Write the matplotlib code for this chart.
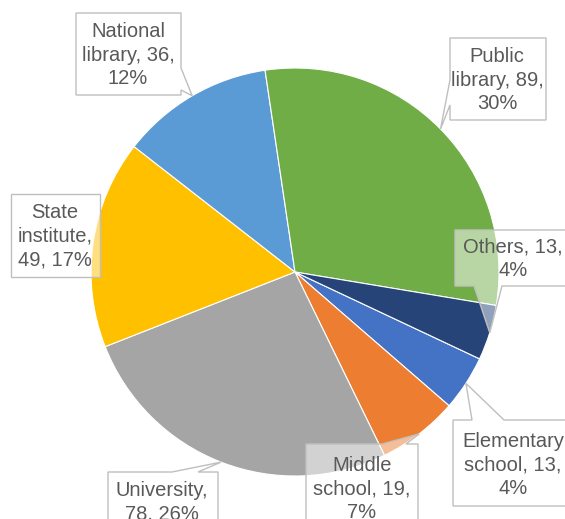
import numpy as np
import matplotlib
matplotlib.use("Agg")
import matplotlib.pyplot as plt
from matplotlib.patches import Polygon

plt.rcParams['font.family'] = ['Liberation Sans', 'DejaVu Sans']

categories = ["Elementary school", "Middle school", "University", "State institute",
              "National library", "Public library", "Others"]
values = [13, 19, 78, 49, 36, 89, 13]
label_texts = ["Elementary\nschool, 13,\n4%", "Middle\nschool, 19,\n7%", "University,\n78, 26%",
               "State\ninstitute,\n49, 17%", "National\nlibrary, 36,\n12%",
               "Public\nlibrary, 89,\n30%", "Others, 13,\n4%"]
colors = ["#4472C4", "#ED7D31", "#A5A5A5", "#FFC000", "#5B9BD5", "#70AD47", "#264478"]

W, H = 565, 519
fig = plt.figure(figsize=(W / 100, H / 100), dpi=100)
fig.patch.set_facecolor("white")

# pie geometry in pixels
CX, CY, R = 295, 272, 204
ax = fig.add_axes([(CX - R) / W, (H - (CY + R)) / H, 2 * R / W, 2 * R / H])

START = -25.2
wedges, _ = ax.pie(values, colors=colors, startangle=START, counterclock=False,
                   radius=1, center=(0, 0), frame=True,
                   wedgeprops=dict(edgecolor="white", linewidth=0.8))
ax.set_xlim(-1, 1)
ax.set_ylim(-1, 1)
ax.axis("off")


def px2d(x, y):
    return ((x - CX) / R, (CY - y) / R)


# label layout: box (x0, y0, x1, y1) in pixels, text centre, tail side and base
layout = {
    "Elementary school": dict(box=(453, 420, 580, 506), tc=(513, 465), side="top", base=(472, 504)),
    "Middle school": dict(box=(306, 444, 418, 540), tc=(362, 489), side="top", base=(382, 406)),
    "University": dict(box=(108, 472, 218, 540), tc=(162, 502), side="top", base=(172, 198)),
    "State institute": dict(box=(11, 194, 100, 277), tc=(55, 236), side=None, base=None),
    "National library": dict(box=(76, 13, 181, 95), tc=(128, 55), side="right", base=(68, 90)),
    "Public library": dict(box=(450, 38, 546, 120), tc=(497, 80), side="left", base=(80, 105)),
    "Others": dict(box=(455, 230, 580, 286), tc=(513, 259), side="bottom", base=(474, 502)),
}

total = sum(values)
cum = 0.0
for cat, val, txt in zip(categories, values, label_texts):
    mid_frac = (cum + val / 2) / total
    cum += val
    theta = np.deg2rad(START - 360 * mid_frac)
    tip = (np.cos(theta), np.sin(theta))
    L = layout[cat]
    x0, y0, x1, y1 = L["box"]
    s, b = L["side"], L["base"]
    if s == "top":
        pts = [(x0, y0), (b[0], y0), None, (b[1], y0), (x1, y0), (x1, y1), (x0, y1)]
    elif s == "right":
        pts = [(x0, y0), (x1, y0), (x1, b[0]), None, (x1, b[1]), (x1, y1), (x0, y1)]
    elif s == "left":
        pts = [(x0, y0), (x1, y0), (x1, y1), (x0, y1), (x0, b[1]), None, (x0, b[0])]
    elif s == "bottom":
        pts = [(x0, y0), (x1, y0), (x1, y1), (b[1], y1), None, (b[0], y1), (x0, y1)]
    else:
        pts = [(x0, y0), (x1, y0), (x1, y1), (x0, y1)]
    poly = [tip if p is None else px2d(*p) for p in pts]
    ax.add_patch(Polygon(poly, closed=True, facecolor=(1, 1, 1, 0.5),
                         edgecolor="#BFBFBF", linewidth=1.0, clip_on=False, zorder=5))
    tx, ty = px2d(*L["tc"])
    ax.text(tx, ty, txt, ha="center", va="center", multialignment="center",
            fontsize=14.5, color="#595959", linespacing=1.3, zorder=6, clip_on=False)

fig.savefig("out.png", dpi=100, facecolor="white")
